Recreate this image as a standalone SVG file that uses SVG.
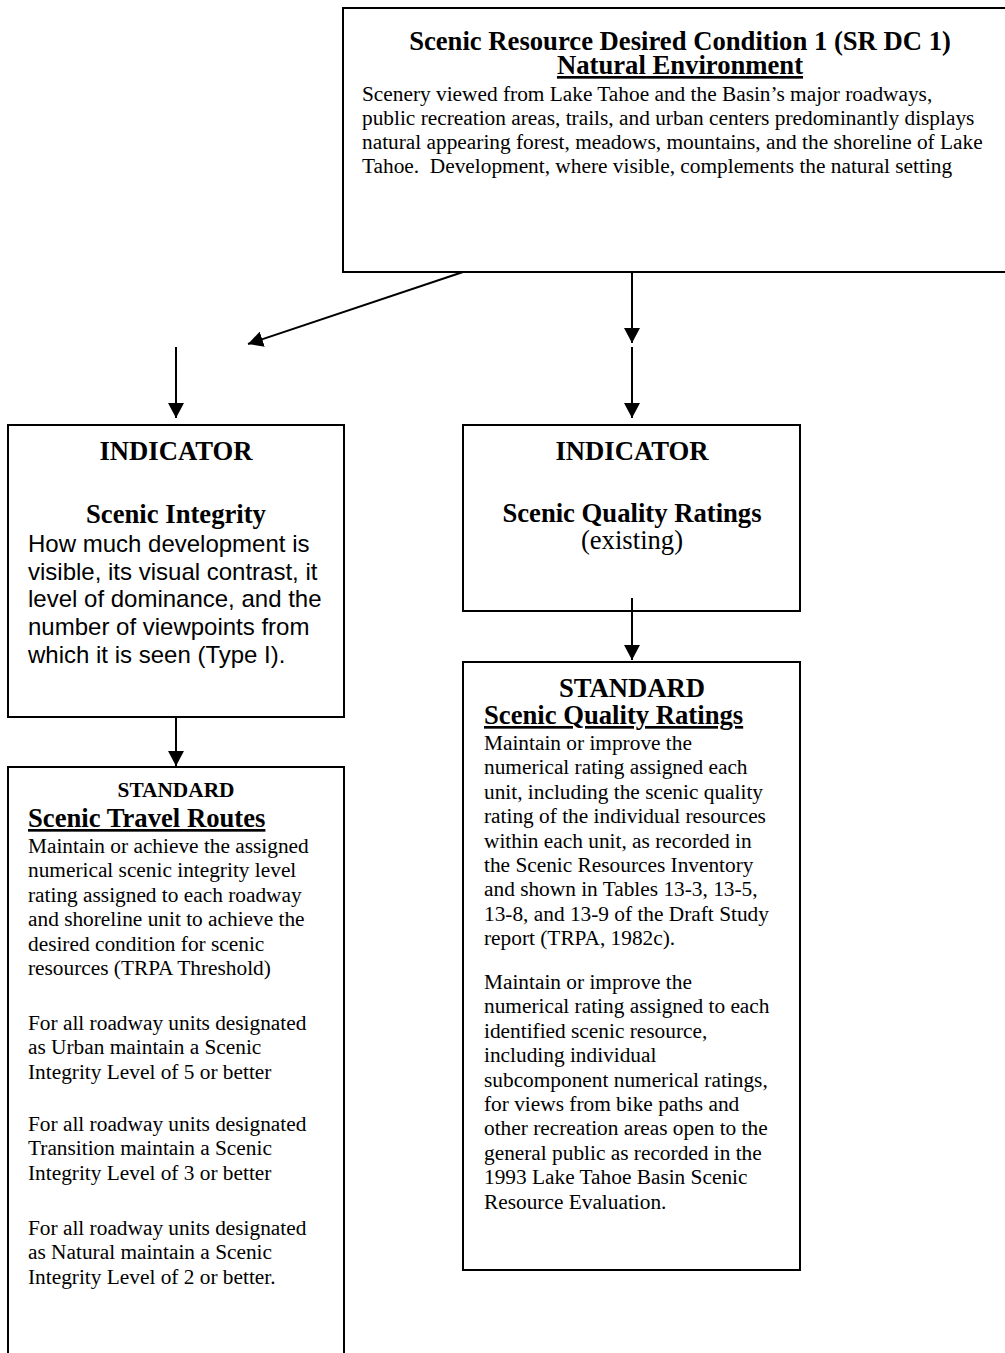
<svg xmlns="http://www.w3.org/2000/svg" width="1005" height="1353" viewBox="0 0 1005 1353">
<style>
.box{fill:#fff;stroke:#000;stroke-width:2}
.hd{font-family:"Liberation Serif","Times New Roman",serif;font-weight:bold;font-size:26.67px;fill:#000}
.hs{font-family:"Liberation Serif","Times New Roman",serif;font-weight:bold;font-size:21.33px;fill:#000}
.tr{font-family:"Liberation Serif","Times New Roman",serif;font-size:21.33px;fill:#000}
.tl{font-family:"Liberation Serif","Times New Roman",serif;font-size:26.67px;fill:#000}
.ar{font-family:"Liberation Sans",Arial,sans-serif;font-size:24px;fill:#000}
.c{text-anchor:middle}
.u{text-decoration:underline}
.conn{stroke:#000;stroke-width:2;fill:none;marker-end:url(#ah)}
</style>
<defs>
<marker id="ah" markerUnits="userSpaceOnUse" markerWidth="16" markerHeight="16" refX="15" refY="8" orient="auto">
<path d="M0,0 L15,8 L0,16 Z" fill="#000"/>
</marker>
</defs>
<rect width="1005" height="1353" fill="#fff"/>

<g id="dc1">
<rect class="box" x="343" y="8" width="700" height="264"/>
<text class="hd c" x="680" y="50">Scenic Resource Desired Condition 1 (SR DC 1)</text>
<text class="hd c u" x="680" y="74">Natural Environment</text>
<text class="tr" x="362" y="101">Scenery viewed from Lake Tahoe and the Basin’s major roadways,</text>
<text class="tr" x="362" y="125">public recreation areas, trails, and urban centers predominantly displays</text>
<text class="tr" x="362" y="149">natural appearing forest, meadows, mountains, and the shoreline of Lake</text>
<text class="tr" x="362" y="173" xml:space="preserve">Tahoe.  Development, where visible, complements the natural setting</text>
</g>

<g id="ind-integrity">
<rect class="box" x="8" y="425" width="336" height="292"/>
<text class="hd c" x="176" y="460">INDICATOR</text>
<text class="hd c" x="176" y="523">Scenic Integrity</text>
<text class="ar" x="28" y="552">How much development is</text>
<text class="ar" x="28" y="579.7">visible, its visual contrast, it</text>
<text class="ar" x="28" y="607.4">level of dominance, and the</text>
<text class="ar" x="28" y="635.1">number of viewpoints from</text>
<text class="ar" x="28" y="662.8">which it is seen (Type I).</text>
</g>

<g id="ind-quality">
<rect class="box" x="463" y="425" width="337" height="186"/>
<text class="hd c" x="632" y="460">INDICATOR</text>
<text class="hd c" x="632" y="522">Scenic Quality Ratings</text>
<text class="tl c" x="632" y="549">(existing)</text>
</g>

<g id="std-routes">
<rect class="box" x="8" y="767" width="336" height="620"/>
<text class="hs c" x="176" y="797">STANDARD</text>
<text class="hd u" x="28" y="827">Scenic Travel Routes</text>
<text class="tr" x="28" y="853">Maintain or achieve the assigned</text>
<text class="tr" x="28" y="877.4">numerical scenic integrity level</text>
<text class="tr" x="28" y="901.8">rating assigned to each roadway</text>
<text class="tr" x="28" y="926.2">and shoreline unit to achieve the</text>
<text class="tr" x="28" y="950.6">desired condition for scenic</text>
<text class="tr" x="28" y="975">resources (TRPA Threshold)</text>
<text class="tr" x="28" y="1030">For all roadway units designated</text>
<text class="tr" x="28" y="1054.4">as Urban maintain a Scenic</text>
<text class="tr" x="28" y="1078.8">Integrity Level of 5 or better</text>
<text class="tr" x="28" y="1131">For all roadway units designated</text>
<text class="tr" x="28" y="1155.4">Transition maintain a Scenic</text>
<text class="tr" x="28" y="1179.8">Integrity Level of 3 or better</text>
<text class="tr" x="28" y="1235">For all roadway units designated</text>
<text class="tr" x="28" y="1259.4">as Natural maintain a Scenic</text>
<text class="tr" x="28" y="1283.8">Integrity Level of 2 or better.</text>
</g>

<g id="std-quality">
<rect class="box" x="463" y="662" width="337" height="608"/>
<text class="hd c" x="632" y="697">STANDARD</text>
<text class="hd u" x="484" y="724">Scenic Quality Ratings</text>
<text class="tr" x="484" y="750">Maintain or improve the</text>
<text class="tr" x="484" y="774.4">numerical rating assigned each</text>
<text class="tr" x="484" y="798.8">unit, including the scenic quality</text>
<text class="tr" x="484" y="823.2">rating of the individual resources</text>
<text class="tr" x="484" y="847.6">within each unit, as recorded in</text>
<text class="tr" x="484" y="872">the Scenic Resources Inventory</text>
<text class="tr" x="484" y="896.4">and shown in Tables 13-3, 13-5,</text>
<text class="tr" x="484" y="920.8">13-8, and 13-9 of the Draft Study</text>
<text class="tr" x="484" y="945.2">report (TRPA, 1982c).</text>
<text class="tr" x="484" y="989">Maintain or improve the</text>
<text class="tr" x="484" y="1013.4">numerical rating assigned to each</text>
<text class="tr" x="484" y="1037.8">identified scenic resource,</text>
<text class="tr" x="484" y="1062.2">including individual</text>
<text class="tr" x="484" y="1086.6">subcomponent numerical ratings,</text>
<text class="tr" x="484" y="1111">for views from bike paths and</text>
<text class="tr" x="484" y="1135.4">other recreation areas open to the</text>
<text class="tr" x="484" y="1159.8">general public as recorded in the</text>
<text class="tr" x="484" y="1184.2">1993 Lake Tahoe Basin Scenic</text>
<text class="tr" x="484" y="1208.6">Resource Evaluation.</text>
</g>

<g id="connectors">
<line class="conn" x1="463" y1="272" x2="248" y2="344"/>
<line class="conn" x1="632" y1="272" x2="632" y2="343"/>
<line class="conn" x1="632" y1="347" x2="632" y2="418"/>
<line class="conn" x1="176" y1="347" x2="176" y2="418"/>
<line class="conn" x1="632" y1="598" x2="632" y2="660"/>
<line class="conn" x1="176" y1="717" x2="176" y2="766"/>
</g>
</svg>
